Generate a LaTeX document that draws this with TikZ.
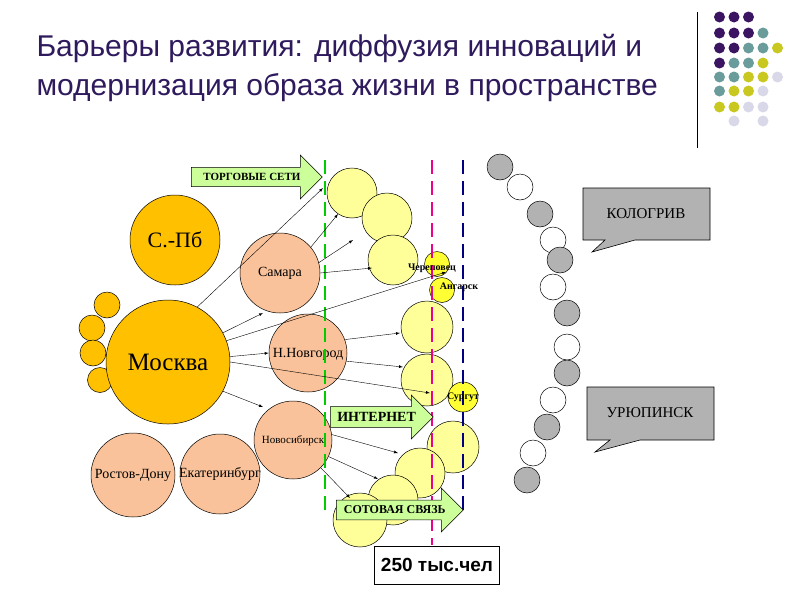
\documentclass[tikz,border=0pt]{standalone}
\usepackage{fontspec}
\setmainfont{Liberation Serif}
\newfontfamily\arial{Liberation Sans}
\usetikzlibrary{shapes.arrows,shapes.callouts}
\definecolor{gold}{HTML}{FFC000}
\definecolor{peach}{HTML}{F9C29A}
\definecolor{lyel}{HTML}{FFFF99}
\definecolor{byel}{HTML}{FFFF33}
\definecolor{lgreen}{HTML}{CCFF99}
\definecolor{dP}{HTML}{3B1462}
\definecolor{dT}{HTML}{6A9C9C}
\definecolor{dY}{HTML}{C8C820}
\definecolor{dL}{HTML}{D8D8E8}
\definecolor{ttl}{HTML}{2E1A5C}
\newcommand{\fs}[1]{\fontsize{#1}{#1}\selectfont}
\tikzset{
 cir/.style={circle,draw=black,line width=0.5pt,inner sep=0pt,minimum size=#1},
 big/.style={cir=#1,fill=gold},
 pch/.style={cir=#1,fill=peach},
 ly/.style={cir=#1,fill=lyel},
 by/.style={cir=#1,fill=byel},
 gch/.style={cir=26pt,fill=gray!60},
 wch/.style={cir=26pt,fill=white},
 barr/.style={single arrow,draw=black,fill=lgreen,line width=0.5pt,single arrow head extend=10pt,inner sep=4pt,anchor=west,minimum height=#1},
 con/.style={-latex,line width=0.4pt},
 dt/.style={circle,fill=#1,inner sep=0pt,minimum size=11pt},
 call/.style={draw=black,fill=gray!60,line width=0.6pt},
 blab/.style={font=\bfseries\fs{10},inner sep=0pt},
}
\begin{document}
\begin{tikzpicture}[x=1pt,y=-1pt]
\useasboundingbox (0,0) rectangle (800,600);
\fill[white] (0,0) rectangle (800,600);
% title
\node[anchor=west,font=\arial\fontsize{30}{39}\selectfont,text=ttl,align=left] (title) at (33,68) {Барьеры развития: диффузия инноваций и\\модернизация образа жизни в пространстве};
\draw[line width=0.8pt] (697,12) -- (697,148);
% dots
\foreach \c [count=\i] in {dP,dP,dP}{\node[dt=\c] at (705+14.5*\i,17){};}
\foreach \c [count=\i] in {dP,dP,dP,dT}{\node[dt=\c] at (705+14.5*\i,33){};}
\foreach \c [count=\i] in {dP,dP,dT,dT,dY}{\node[dt=\c] at (705+14.5*\i,48){};}
\foreach \c [count=\i] in {dP,dT,dT,dY}{\node[dt=\c] at (705+14.5*\i,63){};}
\foreach \c [count=\i] in {dT,dT,dY,dY,dL}{\node[dt=\c] at (705+14.5*\i,77){};}
\foreach \c [count=\i] in {dT,dY,dY,dL}{\node[dt=\c] at (705+14.5*\i,91){};}
\foreach \c [count=\i] in {dY,dY,dL,dL}{\node[dt=\c] at (705+14.5*\i,107){};}
\node[dt=dL] at (734,121){}; \node[dt=dL] at (763,121){};
% chain
\foreach \x/\y/\s in {500/167/gch,520/187/wch,540/214/gch,553/240/wch,560/260/gch,553/287/wch,567/313/gch,567/347/wch,567/373/gch,553/400/wch,547/427/gch,533/453/wch,527/480/gch}{\node[\s] at (\x,\y){};}
% callouts
\draw[call] (583,188) -- (710,188) -- (710,240) -- (635,240) -- (592,252) -- (605,240) -- (583,240) -- cycle;
\node[font=\fs{15}] (kol) at (646,214) {КОЛОГРИВ};
\draw[call] (587,387) -- (714,387) -- (714,440) -- (640,440) -- (595,452) -- (610,440) -- (587,440) -- cycle;
\node[font=\fs{15}] (ur) at (650,413) {УРЮПИНСК};
% yellow circles
\node[ly=50pt] (y1) at (352,193){};
\node[ly=50pt] (y2) at (387,218){};
\node[ly=50pt] (y3) at (393,260){};
\node[ly=52pt] (y4) at (427,327){};
\node[ly=52pt] (y5) at (427,380){};
\node[ly=52pt] (y6) at (453,447){};
\node[ly=50pt] (y7) at (420,473){};
\node[ly=50pt] (y8) at (393,500){};
\node[ly=54pt] (y9) at (360,520){};
\node[by=25pt] (cher) at (437,264){};
\node[by=25pt] (ang) at (442,290){};
\node[by=30pt] (sur) at (463,397){};
% small left circles
\node[big=26pt] (s1) at (107,305){};
\node[big=26pt] (s2) at (92,328){};
\node[big=26pt] (s3) at (93,353){};
\node[big=25pt] (s4) at (100,380){};
% main
\node[big=90pt,font=\fs{22}] (spb) at (175,240){С.-Пб};
\node[big=124pt,font=\fs{25}] (msk) at (168,362){Москва};
\node[pch=84pt] (ros) at (133,475){};
\node[pch=80pt] (eka) at (220,474){};
\node[font=\fs{14},inner sep=0pt] at (133,475){Ростов-Дону};
\node[font=\fs{14},inner sep=0pt] at (220,474){Екатеринбург};
\node[pch=80pt,font=\fs{14}] (sam) at (280,273){Самара};
\node[pch=78pt] (nn) at (308,353){};
\node[font=\fs{14},inner sep=0pt] at (308,354){Н.Новгород};
\node[pch=78pt] (nsk) at (293,440){};
\node[font=\fs{11},inner sep=0pt] at (293,441){Новосибирск};
% dashed lines
\draw[green!80!black,line width=2pt,dash pattern=on 14pt off 7pt] (325,160) -- (325,515);
\draw[magenta,line width=2pt,dash pattern=on 14pt off 7pt] (432,160) -- (432,545);
\draw[blue!50!black,line width=1.3pt,dash pattern=on 14pt off 7pt] (463,160) -- (463,510);
% labels of small
\node[blab] at (432,268){Череповец};
\node[blab] at (459,287){Ангарск};
\node[blab] at (463,397){Сургут};
% connectors
\coordinate (e1) at (323,188);
\draw[con] (msk.62) -- (e1);
\draw[con] (sam.40) -- (338,214);
\draw[con] (sam.15) -- (353,240);
\draw[con] (sam.east) -- (372,268);
\draw[con] (msk.28) -- (263,313);
\draw[con] (msk.20) -- (446,272);
\draw[con] (msk.5) -- (nn.west);
\draw[con] (msk.0) -- (430,393);
\draw[con] (nn.20) -- (400,333);
\draw[con] (nn.-12) -- (403,367);
\draw[con] (msk.-28) -- (263,407);
\draw[con] (nsk.8) -- (398,453);
\draw[con] (nsk.-25) -- (378,479);
\draw[con] (nsk.-45) -- (350,498);
% block arrows
\node[barr=131pt,font=\bfseries\fs{11},minimum width=44pt] (a1) at (191,177){ТОРГОВЫЕ СЕТИ\hspace{14pt}};
\node[barr=103pt,font=\bfseries\fs{14},minimum width=44pt] (a2) at (330,417){ИНТЕРНЕТ\hspace{18pt}};
\node[barr=127pt,font=\bfseries\fs{12},minimum width=44pt] (a3) at (336,510){СОТОВАЯ СВЯЗЬ\hspace{10pt}};
% box
\node[draw=black,fill=white,line width=0.8pt,font=\arial\bfseries\fs{19},minimum width=125pt,minimum height=38pt] (box) at (437,565){250 тыс.чел};
\end{tikzpicture}
\end{document}
